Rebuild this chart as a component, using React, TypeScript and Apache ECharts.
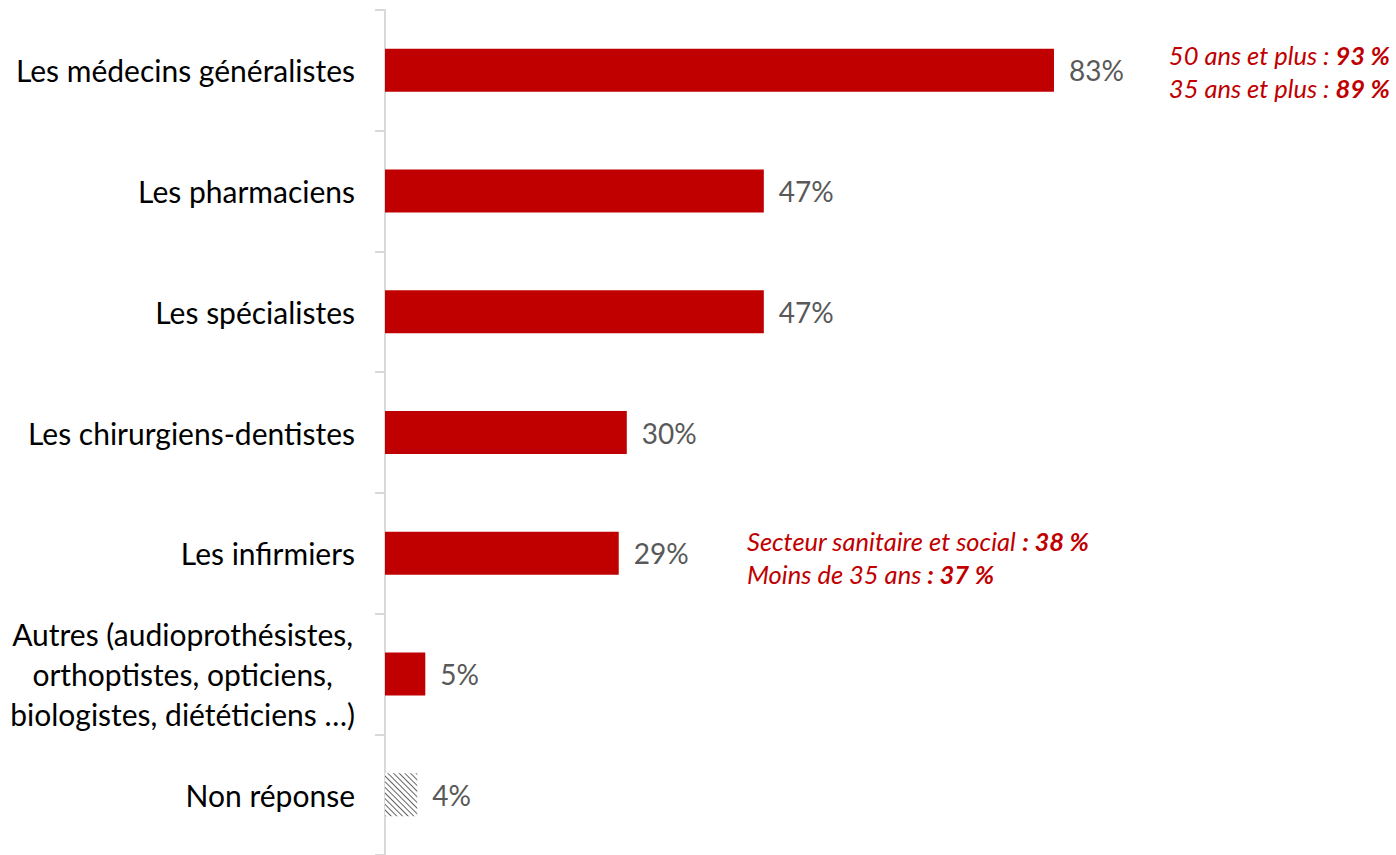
import React, { useEffect, useRef } from "react";
import * as echarts from "echarts";

const categories = [
  "Les médecins généralistes",
  "Les pharmaciens",
  "Les spécialistes",
  "Les chirurgiens-dentistes",
  "Les infirmiers",
  "Autres (audioprothésistes,\northoptistes, opticiens,\nbiologistes, diététiciens …)",
  "Non réponse",
];
const values = [83, 47, 47, 30, 29, 5, 4];
const noAnswerIndex = 6;

const note1Lines = [
  ["50 ans et plus : ", "93 %"],
  ["35 ans et plus : ", "89 %"],
];
const note2Lines = [
  ["Secteur sanitaire et social ", ": 38 %"],
  ["Moins de 35 ans ", ": 37 %"],
];

const RED = "#C00000";
const FONT = "Lato, 'Noto Sans', sans-serif";

export default function App() {
  const ref = useRef<HTMLDivElement>(null);
  useEffect(() => {
    if (!ref.current) return;
    const chart = echarts.init(ref.current, undefined, { renderer: "svg" });
    const noteText = (lines: string[][]) =>
      lines.map((l) => `{i|${l[0]}}{b|${l[1]}}`).join("\n");
    const noteRich = {
      i: { fontStyle: "italic", fontSize: 25.5, fill: RED, fontFamily: FONT, lineHeight: 33 },
      b: { fontStyle: "italic", fontWeight: "bold", fontSize: 25.5, fill: RED, fontFamily: FONT, lineHeight: 33 },
    };
    chart.setOption({
      animation: false,
      grid: { left: 385, top: 10, width: 806, height: 847, containLabel: false },
      xAxis: {
        type: "value",
        min: 0,
        max: 100,
        show: false,
      },
      yAxis: {
        type: "category",
        data: categories,
        inverse: true,
        axisLine: { show: true, lineStyle: { color: "#D9D9D9", width: 2 } },
        axisTick: { show: true, length: 10, lineStyle: { color: "#D9D9D9", width: 2 } },
        axisLabel: {
          margin: 30,
          fontSize: 30,
          color: "#000000",
          fontFamily: FONT,
          lineHeight: 40,
          formatter: (v: string) => {
            if (v.indexOf("\n") >= 0) {
              return v.split("\n").map((s) => `{c|${s}}`).join("\n");
            }
            return v;
          },
          rich: {
            c: { fontSize: 30, color: "#000000", fontFamily: FONT, lineHeight: 40, align: "center" },
          },
        },
      },
      series: [
        {
          type: "bar",
          data: values.map((v, i) =>
            i === noAnswerIndex
              ? {
                  value: v,
                  itemStyle: {
                    color: "#ffffff",
                    decal: {
                      symbol: "rect",
                      color: "#666666",
                      backgroundColor: "#ffffff",
                      dashArrayX: [1, 0],
                      dashArrayY: [1, 3],
                      rotation: Math.PI / 4,
                    },
                  },
                }
              : v
          ),
          barWidth: 43,
          itemStyle: { color: RED },
          label: {
            show: true,
            position: "right",
            distance: 15,
            formatter: "{c}%",
            fontSize: 28,
            color: "#595959",
            fontFamily: FONT,
          },
        },
      ],
      graphic: [
        {
          type: "text",
          right: 6,
          top: 42,
          style: {
            text: noteText(note1Lines),
            rich: noteRich,
            align: "right",
          },
        },
        {
          type: "text",
          left: 747,
          top: 528,
          style: {
            text: noteText(note2Lines),
            rich: noteRich,
          },
        },
      ],
    });
    return () => chart.dispose();
  }, []);
  return (
    <div
      ref={ref}
      style={{ position: "fixed", left: 0, top: 0, width: 1396, height: 855, background: "#fff" }}
    />
  );
}
